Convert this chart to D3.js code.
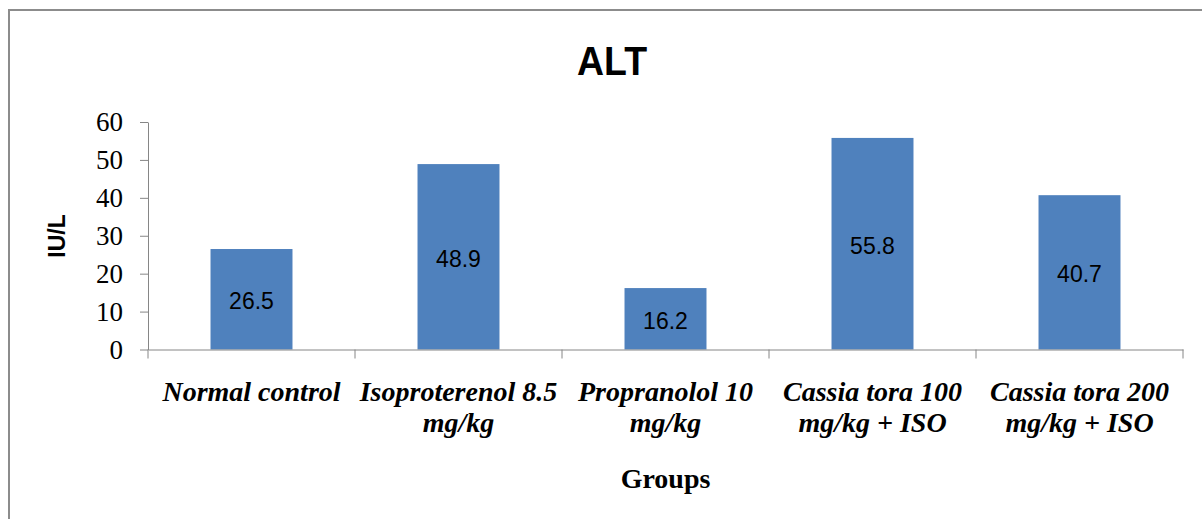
<!DOCTYPE html>
<html>
<head>
<meta charset="utf-8">
<script src="https://cdn.jsdelivr.net/npm/d3@7"></script>
<style>
  body { margin: 0; background: #fff; }
  svg { display: block; }
</style>
</head>
<body>
<div id="chart"></div>
<script>
// chart values
const groups = ["Normal control", "Isoproterenol 8.5\nmg/kg", "Propranolol 10\nmg/kg",
  "Cassia tora 100\nmg/kg + ISO", "Cassia tora 200\nmg/kg + ISO"];
const altValues = [26.5, 48.9, 16.2, 55.8, 40.7];
const yTicks = [0, 10, 20, 30, 40, 50, 60];

const width = 1202, height = 519;
const plot = {left: 148, right: 1183, top: 122, bottom: 349.5};

let svg = d3.select("#chart").append("svg")
  .attr("width", width)
  .attr("height", height);

// outer chart border (runs off the right/bottom edge)
svg.append("rect")
  .attr("x", 9).attr("y", 10)
  .attr("width", 1210).attr("height", 530)
  .attr("fill", "none")
  .attr("stroke", "#8c8c8c").attr("stroke-width", 2);

let x = d3.scaleBand()
  .domain(groups)
  .range([plot.left, plot.right])
  .paddingInner(0.604)
  .paddingOuter(0.302);

let y = d3.scaleLinear()
  .domain([0, 60])
  .range([plot.bottom, plot.top]);

// y axis
let yAxis = d3.axisLeft(y).tickValues(yTicks).tickSize(8).tickPadding(17).tickSizeOuter(0);
let gy = svg.append("g")
  .attr("transform", `translate(${plot.left},0)`)
  .call(yAxis);
gy.select(".domain").attr("stroke", "#868686");
gy.selectAll(".tick line").attr("stroke", "#868686");
gy.selectAll("text")
  .attr("font-family", "'Liberation Serif', 'Times New Roman', serif")
  .attr("font-size", "27px")
  .attr("fill", "#000");

// bars
svg.append("g").selectAll("rect")
  .data(altValues)
  .join("rect")
  .attr("x", (d, i) => x(groups[i]))
  .attr("y", d => y(d))
  .attr("width", x.bandwidth())
  .attr("height", d => y(0) - y(d))
  .attr("fill", "#4f81bd");

// x axis: labels at band centres, ticks on band boundaries
let xAxis = d3.axisBottom(x).tickSize(0).tickSizeOuter(0).tickFormat("");
let gx = svg.append("g")
  .attr("transform", `translate(0,${plot.bottom})`)
  .call(xAxis);
gx.select(".domain").attr("stroke", "#868686");

let boundaries = d3.range(groups.length + 1)
  .map(i => plot.left + i * x.step());
gx.selectAll("line.bound")
  .data(boundaries)
  .join("line")
  .attr("class", "bound")
  .attr("x1", d => d).attr("x2", d => d)
  .attr("y1", 0).attr("y2", 9)
  .attr("stroke", "#868686");

gx.selectAll(".tick").each(function(d) {
  let t = d3.select(this).append("text")
    .attr("fill", "#000")
    .attr("font-family", "'Liberation Serif', 'Times New Roman', serif")
    .attr("font-size", "28px")
    .attr("font-weight", "bold")
    .attr("font-style", "italic")
    .attr("text-anchor", "middle");
  d.split("\n").forEach((line, k) => {
    t.append("tspan").attr("x", 0).attr("y", 51 + k * 31).text(line);
  });
});

// value labels inside bars
svg.append("g").selectAll("text")
  .data(altValues)
  .join("text")
  .attr("x", (d, i) => x(groups[i]) + x.bandwidth() / 2)
  .attr("y", d => (y(d) + y(0)) / 2 + 2)
  .attr("text-anchor", "middle")
  .attr("dominant-baseline", "central")
  .attr("font-family", "'Liberation Sans', Arial, sans-serif")
  .attr("font-size", "23px")
  .attr("fill", "#000")
  .text(d => d.toFixed(1));

// title
svg.append("text")
  .attr("x", 612).attr("y", 75)
  .attr("text-anchor", "middle")
  .attr("font-family", "'Liberation Sans', Arial, sans-serif")
  .attr("font-weight", "bold")
  .attr("font-size", "41px")
  .attr("textLength", 70)
  .attr("lengthAdjust", "spacingAndGlyphs")
  .text("ALT");

// y axis label
svg.append("text")
  .attr("transform", `translate(65,236) rotate(-90)`)
  .attr("text-anchor", "middle")
  .attr("font-family", "'Liberation Sans', Arial, sans-serif")
  .attr("font-weight", "bold")
  .attr("font-size", "23px")
  .text("IU/L");

// x axis label
svg.append("text")
  .attr("x", (plot.left + plot.right) / 2).attr("y", 488)
  .attr("text-anchor", "middle")
  .attr("font-family", "'Liberation Serif', 'Times New Roman', serif")
  .attr("font-weight", "bold")
  .attr("font-size", "28px")
  .text("Groups");
</script>
</body>
</html>
